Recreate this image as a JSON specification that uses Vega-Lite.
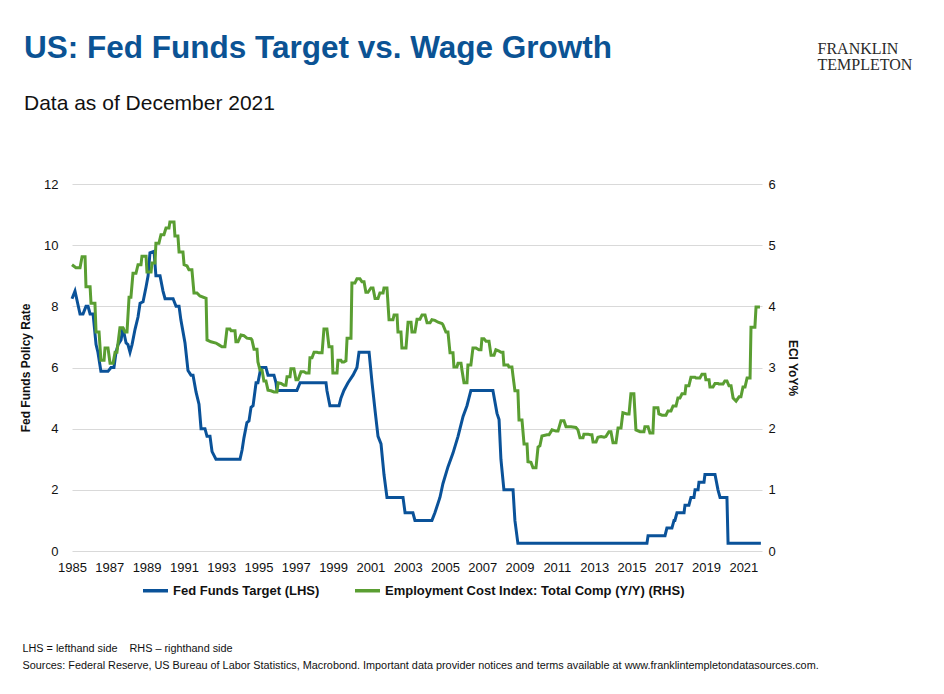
{
  "$schema": "https://vega.github.io/schema/vega-lite/v6.json",
  "width": 690,
  "height": 367,
  "autosize": {"type": "none"},
  "padding": {"left": 72, "top": 184, "right": 182, "bottom": 143},
  "background": "white",
  "config": {
    "font": "Liberation Sans",
    "view": {"stroke": null},
    "axis": {"domain": false, "ticks": false, "labelColor": "#111111", "titleColor": "#111111"}
  },
  "title": {
    "text": "US: Fed Funds Target vs. Wage Growth",
    "subtitle": "Data as of December 2021",
    "anchor": "start",
    "frame": "group",
    "fontSize": 31.5,
    "fontWeight": "bold",
    "color": "#0B5394",
    "subtitleFontSize": 21,
    "subtitleColor": "#111111",
    "subtitlePadding": 29,
    "dx": -48,
    "dy": 78
  },
  "datasets": {
    "ff": [
      {"date": 1985.00, "value": 8.25}, {"date": 1985.16, "value": 8.5}, {"date": 1985.43, "value": 7.75}, {"date": 1985.59, "value": 7.75},
      {"date": 1985.75, "value": 8.0}, {"date": 1985.86, "value": 8.0}, {"date": 1985.97, "value": 7.75}, {"date": 1986.13, "value": 7.75},
      {"date": 1986.29, "value": 6.75}, {"date": 1986.39, "value": 6.5}, {"date": 1986.55, "value": 5.875}, {"date": 1986.93, "value": 5.875},
      {"date": 1987.09, "value": 6.0}, {"date": 1987.25, "value": 6.0}, {"date": 1987.36, "value": 6.5}, {"date": 1987.47, "value": 6.75},
      {"date": 1987.63, "value": 6.9}, {"date": 1987.73, "value": 7.3}, {"date": 1987.90, "value": 6.8}, {"date": 1988.00, "value": 6.75},
      {"date": 1988.11, "value": 6.5}, {"date": 1988.22, "value": 6.75}, {"date": 1988.38, "value": 7.25}, {"date": 1988.54, "value": 7.65},
      {"date": 1988.65, "value": 8.1}, {"date": 1988.81, "value": 8.15}, {"date": 1988.97, "value": 8.63}, {"date": 1989.08, "value": 9.0},
      {"date": 1989.18, "value": 9.75}, {"date": 1989.40, "value": 9.8}, {"date": 1989.50, "value": 9.0}, {"date": 1989.72, "value": 9.0},
      {"date": 1989.88, "value": 8.5}, {"date": 1989.99, "value": 8.25}, {"date": 1990.42, "value": 8.25}, {"date": 1990.58, "value": 8.0},
      {"date": 1990.74, "value": 8.0}, {"date": 1990.84, "value": 7.55}, {"date": 1991.06, "value": 6.8}, {"date": 1991.22, "value": 5.9},
      {"date": 1991.38, "value": 5.75}, {"date": 1991.49, "value": 5.75}, {"date": 1991.65, "value": 5.2}, {"date": 1991.81, "value": 4.8},
      {"date": 1991.92, "value": 4.0}, {"date": 1992.13, "value": 4.0}, {"date": 1992.24, "value": 3.75}, {"date": 1992.40, "value": 3.75},
      {"date": 1992.51, "value": 3.25}, {"date": 1992.72, "value": 3.0}, {"date": 1994.01, "value": 3.0}, {"date": 1994.12, "value": 3.3},
      {"date": 1994.22, "value": 3.7}, {"date": 1994.38, "value": 4.2}, {"date": 1994.49, "value": 4.25}, {"date": 1994.60, "value": 4.7},
      {"date": 1994.71, "value": 4.75}, {"date": 1994.87, "value": 5.5}, {"date": 1994.97, "value": 5.5}, {"date": 1995.13, "value": 6.0},
      {"date": 1995.40, "value": 6.0}, {"date": 1995.51, "value": 5.75}, {"date": 1995.83, "value": 5.75}, {"date": 1995.94, "value": 5.5},
      {"date": 1995.99, "value": 5.25}, {"date": 1997.06, "value": 5.25}, {"date": 1997.23, "value": 5.5}, {"date": 1998.62, "value": 5.5},
      {"date": 1998.67, "value": 5.25}, {"date": 1998.83, "value": 4.75}, {"date": 1999.32, "value": 4.75}, {"date": 1999.42, "value": 5.0},
      {"date": 1999.58, "value": 5.25}, {"date": 1999.80, "value": 5.5}, {"date": 2000.07, "value": 5.75}, {"date": 2000.28, "value": 6.0},
      {"date": 2000.39, "value": 6.5}, {"date": 2000.93, "value": 6.5}, {"date": 2001.09, "value": 5.5}, {"date": 2001.25, "value": 4.6},
      {"date": 2001.41, "value": 3.75}, {"date": 2001.57, "value": 3.5}, {"date": 2001.73, "value": 2.5}, {"date": 2001.89, "value": 1.75},
      {"date": 2002.75, "value": 1.75}, {"date": 2002.86, "value": 1.25}, {"date": 2003.28, "value": 1.25}, {"date": 2003.39, "value": 1.0},
      {"date": 2004.30, "value": 1.0}, {"date": 2004.46, "value": 1.25}, {"date": 2004.73, "value": 1.75}, {"date": 2004.89, "value": 2.2},
      {"date": 2005.16, "value": 2.75}, {"date": 2005.43, "value": 3.2}, {"date": 2005.70, "value": 3.75}, {"date": 2005.97, "value": 4.4},
      {"date": 2006.18, "value": 4.75}, {"date": 2006.39, "value": 5.25}, {"date": 2007.57, "value": 5.25}, {"date": 2007.79, "value": 4.5},
      {"date": 2007.90, "value": 4.3}, {"date": 2008.00, "value": 3.0}, {"date": 2008.16, "value": 2.0}, {"date": 2008.65, "value": 2.0},
      {"date": 2008.75, "value": 1.0}, {"date": 2008.91, "value": 0.25}, {"date": 2015.83, "value": 0.25}, {"date": 2015.89, "value": 0.5},
      {"date": 2016.80, "value": 0.5}, {"date": 2016.90, "value": 0.75}, {"date": 2017.17, "value": 0.75}, {"date": 2017.28, "value": 1.0},
      {"date": 2017.33, "value": 1.0}, {"date": 2017.44, "value": 1.25}, {"date": 2017.82, "value": 1.25}, {"date": 2017.87, "value": 1.5},
      {"date": 2018.08, "value": 1.5}, {"date": 2018.19, "value": 1.75}, {"date": 2018.35, "value": 1.75}, {"date": 2018.41, "value": 2.0},
      {"date": 2018.57, "value": 2.0}, {"date": 2018.62, "value": 2.25}, {"date": 2018.89, "value": 2.25}, {"date": 2018.94, "value": 2.5},
      {"date": 2019.48, "value": 2.5}, {"date": 2019.64, "value": 2.0}, {"date": 2019.75, "value": 1.75}, {"date": 2020.12, "value": 1.75},
      {"date": 2020.18, "value": 0.25}, {"date": 2021.94, "value": 0.25}
    ],
    "eci": [
      {"date": 1985.00, "value": 4.68}, {"date": 1985.21, "value": 4.63}, {"date": 1985.43, "value": 4.63}, {"date": 1985.54, "value": 4.81},
      {"date": 1985.70, "value": 4.81}, {"date": 1985.75, "value": 4.32}, {"date": 1985.97, "value": 4.32}, {"date": 1986.02, "value": 4.05},
      {"date": 1986.23, "value": 4.05}, {"date": 1986.29, "value": 3.58}, {"date": 1986.45, "value": 3.58}, {"date": 1986.55, "value": 3.12},
      {"date": 1986.72, "value": 3.12}, {"date": 1986.77, "value": 3.32}, {"date": 1986.93, "value": 3.32}, {"date": 1987.04, "value": 3.07},
      {"date": 1987.20, "value": 3.07}, {"date": 1987.31, "value": 3.25}, {"date": 1987.41, "value": 3.25}, {"date": 1987.57, "value": 3.65},
      {"date": 1987.73, "value": 3.65}, {"date": 1987.84, "value": 3.58}, {"date": 1987.95, "value": 3.58}, {"date": 1988.06, "value": 4.15},
      {"date": 1988.16, "value": 4.15}, {"date": 1988.27, "value": 4.54}, {"date": 1988.43, "value": 4.54}, {"date": 1988.54, "value": 4.68},
      {"date": 1988.70, "value": 4.68}, {"date": 1988.75, "value": 4.82}, {"date": 1988.97, "value": 4.82}, {"date": 1989.02, "value": 4.56},
      {"date": 1989.24, "value": 4.56}, {"date": 1989.29, "value": 4.71}, {"date": 1989.45, "value": 4.71}, {"date": 1989.50, "value": 5.03},
      {"date": 1989.66, "value": 5.03}, {"date": 1989.77, "value": 5.17}, {"date": 1989.93, "value": 5.17}, {"date": 1990.04, "value": 5.28},
      {"date": 1990.20, "value": 5.28}, {"date": 1990.25, "value": 5.38}, {"date": 1990.47, "value": 5.38}, {"date": 1990.52, "value": 5.15},
      {"date": 1990.68, "value": 5.15}, {"date": 1990.74, "value": 4.89}, {"date": 1990.95, "value": 4.89}, {"date": 1991.01, "value": 4.68},
      {"date": 1991.17, "value": 4.66}, {"date": 1991.27, "value": 4.6}, {"date": 1991.43, "value": 4.6}, {"date": 1991.54, "value": 4.22},
      {"date": 1991.70, "value": 4.22}, {"date": 1991.86, "value": 4.17}, {"date": 1992.19, "value": 4.13}, {"date": 1992.24, "value": 3.45},
      {"date": 1992.45, "value": 3.42}, {"date": 1992.72, "value": 3.4}, {"date": 1992.88, "value": 3.37}, {"date": 1993.04, "value": 3.34},
      {"date": 1993.20, "value": 3.34}, {"date": 1993.31, "value": 3.63}, {"date": 1993.47, "value": 3.63}, {"date": 1993.53, "value": 3.6},
      {"date": 1993.74, "value": 3.6}, {"date": 1993.79, "value": 3.42}, {"date": 1993.90, "value": 3.42}, {"date": 1994.06, "value": 3.53},
      {"date": 1994.22, "value": 3.52}, {"date": 1994.38, "value": 3.48}, {"date": 1994.60, "value": 3.47}, {"date": 1994.65, "value": 3.45},
      {"date": 1994.76, "value": 3.3}, {"date": 1994.92, "value": 3.3}, {"date": 1994.97, "value": 3.09}, {"date": 1995.08, "value": 2.96},
      {"date": 1995.19, "value": 2.96}, {"date": 1995.29, "value": 2.78}, {"date": 1995.40, "value": 2.78}, {"date": 1995.51, "value": 2.63},
      {"date": 1995.67, "value": 2.62}, {"date": 1995.83, "value": 2.6}, {"date": 1995.99, "value": 2.6}, {"date": 1996.05, "value": 2.75},
      {"date": 1996.21, "value": 2.74}, {"date": 1996.37, "value": 2.71}, {"date": 1996.47, "value": 2.71}, {"date": 1996.53, "value": 2.85},
      {"date": 1996.69, "value": 2.85}, {"date": 1996.74, "value": 2.98}, {"date": 1996.90, "value": 2.98}, {"date": 1997.01, "value": 2.8},
      {"date": 1997.12, "value": 2.8}, {"date": 1997.28, "value": 2.93}, {"date": 1997.44, "value": 2.93}, {"date": 1997.55, "value": 2.91},
      {"date": 1997.71, "value": 2.91}, {"date": 1997.76, "value": 3.16}, {"date": 1997.87, "value": 3.16}, {"date": 1997.98, "value": 3.25},
      {"date": 1998.14, "value": 3.25}, {"date": 1998.24, "value": 3.24}, {"date": 1998.41, "value": 3.24}, {"date": 1998.51, "value": 3.63},
      {"date": 1998.67, "value": 3.63}, {"date": 1998.78, "value": 3.34}, {"date": 1998.94, "value": 3.34}, {"date": 1998.99, "value": 2.91},
      {"date": 1999.21, "value": 2.91}, {"date": 1999.26, "value": 3.12}, {"date": 1999.42, "value": 3.12}, {"date": 1999.48, "value": 3.09},
      {"date": 1999.58, "value": 3.09}, {"date": 1999.69, "value": 3.11}, {"date": 1999.75, "value": 3.48}, {"date": 1999.96, "value": 3.48},
      {"date": 2000.01, "value": 4.38}, {"date": 2000.17, "value": 4.38}, {"date": 2000.28, "value": 4.45}, {"date": 2000.44, "value": 4.45},
      {"date": 2000.55, "value": 4.4}, {"date": 2000.66, "value": 4.4}, {"date": 2000.76, "value": 4.23}, {"date": 2000.87, "value": 4.23},
      {"date": 2001.03, "value": 4.3}, {"date": 2001.14, "value": 4.3}, {"date": 2001.25, "value": 4.13}, {"date": 2001.41, "value": 4.13},
      {"date": 2001.51, "value": 4.22}, {"date": 2001.68, "value": 4.22}, {"date": 2001.73, "value": 4.3}, {"date": 2001.89, "value": 4.3},
      {"date": 2002.00, "value": 3.78}, {"date": 2002.21, "value": 3.78}, {"date": 2002.27, "value": 3.86}, {"date": 2002.43, "value": 3.86},
      {"date": 2002.48, "value": 3.58}, {"date": 2002.64, "value": 3.58}, {"date": 2002.69, "value": 3.32}, {"date": 2002.91, "value": 3.32},
      {"date": 2003.02, "value": 3.74}, {"date": 2003.18, "value": 3.74}, {"date": 2003.23, "value": 3.58}, {"date": 2003.39, "value": 3.58},
      {"date": 2003.50, "value": 3.79}, {"date": 2003.66, "value": 3.79}, {"date": 2003.77, "value": 3.86}, {"date": 2003.93, "value": 3.86},
      {"date": 2004.04, "value": 3.73}, {"date": 2004.20, "value": 3.73}, {"date": 2004.30, "value": 3.78}, {"date": 2004.46, "value": 3.77},
      {"date": 2004.63, "value": 3.74}, {"date": 2004.84, "value": 3.72}, {"date": 2004.89, "value": 3.7}, {"date": 2005.05, "value": 3.58},
      {"date": 2005.16, "value": 3.58}, {"date": 2005.27, "value": 3.24}, {"date": 2005.43, "value": 3.24}, {"date": 2005.48, "value": 3.01},
      {"date": 2005.64, "value": 3.01}, {"date": 2005.70, "value": 3.07}, {"date": 2005.86, "value": 3.07}, {"date": 2005.91, "value": 2.96},
      {"date": 2006.02, "value": 2.75}, {"date": 2006.18, "value": 2.75}, {"date": 2006.23, "value": 3.04}, {"date": 2006.39, "value": 3.04},
      {"date": 2006.50, "value": 3.32}, {"date": 2006.66, "value": 3.32}, {"date": 2006.82, "value": 3.29}, {"date": 2006.93, "value": 3.29},
      {"date": 2006.98, "value": 3.47}, {"date": 2007.09, "value": 3.47}, {"date": 2007.20, "value": 3.43}, {"date": 2007.36, "value": 3.43},
      {"date": 2007.47, "value": 3.2}, {"date": 2007.63, "value": 3.2}, {"date": 2007.73, "value": 3.29}, {"date": 2007.90, "value": 3.27},
      {"date": 2008.00, "value": 3.25}, {"date": 2008.11, "value": 3.25}, {"date": 2008.16, "value": 3.04}, {"date": 2008.38, "value": 3.04},
      {"date": 2008.43, "value": 3.01}, {"date": 2008.59, "value": 3.01}, {"date": 2008.65, "value": 2.86}, {"date": 2008.75, "value": 2.62},
      {"date": 2008.91, "value": 2.62}, {"date": 2008.97, "value": 2.14}, {"date": 2009.13, "value": 2.14}, {"date": 2009.24, "value": 1.75},
      {"date": 2009.40, "value": 1.75}, {"date": 2009.45, "value": 1.46}, {"date": 2009.61, "value": 1.45}, {"date": 2009.72, "value": 1.36},
      {"date": 2009.88, "value": 1.36}, {"date": 2009.99, "value": 1.7}, {"date": 2010.09, "value": 1.72}, {"date": 2010.20, "value": 1.88},
      {"date": 2010.47, "value": 1.9}, {"date": 2010.58, "value": 1.9}, {"date": 2010.74, "value": 1.98}, {"date": 2010.95, "value": 1.96},
      {"date": 2011.06, "value": 1.96}, {"date": 2011.22, "value": 2.13}, {"date": 2011.38, "value": 2.13}, {"date": 2011.49, "value": 2.03},
      {"date": 2011.76, "value": 2.03}, {"date": 2012.02, "value": 2.02}, {"date": 2012.13, "value": 1.98}, {"date": 2012.24, "value": 1.85},
      {"date": 2012.40, "value": 1.85}, {"date": 2012.45, "value": 1.91}, {"date": 2012.67, "value": 1.91}, {"date": 2012.78, "value": 1.9},
      {"date": 2012.88, "value": 1.9}, {"date": 2012.94, "value": 1.78}, {"date": 2013.10, "value": 1.78}, {"date": 2013.20, "value": 1.86},
      {"date": 2013.37, "value": 1.87}, {"date": 2013.53, "value": 1.86}, {"date": 2013.63, "value": 1.87}, {"date": 2013.79, "value": 1.95},
      {"date": 2013.90, "value": 1.95}, {"date": 2014.01, "value": 1.77}, {"date": 2014.17, "value": 1.77}, {"date": 2014.28, "value": 2.01},
      {"date": 2014.44, "value": 2.01}, {"date": 2014.54, "value": 2.26}, {"date": 2014.76, "value": 2.24}, {"date": 2014.87, "value": 2.24},
      {"date": 2014.97, "value": 2.57}, {"date": 2015.13, "value": 2.57}, {"date": 2015.24, "value": 1.98}, {"date": 2015.46, "value": 1.95},
      {"date": 2015.67, "value": 1.95}, {"date": 2015.72, "value": 2.03}, {"date": 2015.89, "value": 2.03}, {"date": 2015.99, "value": 1.93},
      {"date": 2016.15, "value": 1.93}, {"date": 2016.21, "value": 2.34}, {"date": 2016.42, "value": 2.34}, {"date": 2016.47, "value": 2.24},
      {"date": 2016.64, "value": 2.22}, {"date": 2016.85, "value": 2.22}, {"date": 2016.96, "value": 2.29}, {"date": 2017.12, "value": 2.29},
      {"date": 2017.23, "value": 2.37}, {"date": 2017.39, "value": 2.37}, {"date": 2017.49, "value": 2.5}, {"date": 2017.60, "value": 2.5},
      {"date": 2017.71, "value": 2.57}, {"date": 2017.87, "value": 2.57}, {"date": 2017.92, "value": 2.7}, {"date": 2018.08, "value": 2.7},
      {"date": 2018.19, "value": 2.84}, {"date": 2018.41, "value": 2.84}, {"date": 2018.46, "value": 2.83}, {"date": 2018.67, "value": 2.83},
      {"date": 2018.78, "value": 2.89}, {"date": 2018.94, "value": 2.89}, {"date": 2018.99, "value": 2.8}, {"date": 2019.16, "value": 2.8},
      {"date": 2019.21, "value": 2.68}, {"date": 2019.37, "value": 2.68}, {"date": 2019.48, "value": 2.74}, {"date": 2019.64, "value": 2.74},
      {"date": 2019.69, "value": 2.73}, {"date": 2019.91, "value": 2.73}, {"date": 2020.01, "value": 2.78}, {"date": 2020.12, "value": 2.78},
      {"date": 2020.23, "value": 2.7}, {"date": 2020.34, "value": 2.7}, {"date": 2020.45, "value": 2.5}, {"date": 2020.61, "value": 2.45},
      {"date": 2020.77, "value": 2.52}, {"date": 2020.87, "value": 2.52}, {"date": 2020.98, "value": 2.68}, {"date": 2021.09, "value": 2.68},
      {"date": 2021.20, "value": 2.83}, {"date": 2021.36, "value": 2.83}, {"date": 2021.41, "value": 3.66}, {"date": 2021.62, "value": 3.66},
      {"date": 2021.68, "value": 3.99}, {"date": 2021.89, "value": 3.99}
    ]
  },
  "layer": [
    {
      "data": {"name": "ff"},
      "mark": {"type": "line", "strokeWidth": 3, "interpolate": "linear"},
      "encoding": {
        "x": {
          "field": "date", "type": "quantitative",
          "scale": {"domain": [1985, 2022], "nice": false, "zero": false},
          "axis": {
            "orient": "bottom",
            "values": [1985, 1987, 1989, 1991, 1993, 1995, 1997, 1999, 2001, 2003, 2005, 2007, 2009, 2011, 2013, 2015, 2017, 2019, 2021],
            "format": "d", "grid": false, "labelFontSize": 13, "labelPadding": 10, "labelFlush": false, "labelOverlap": false,
            "title": ["LHS = lefthand side\u00a0\u00a0\u00a0\u00a0RHS \u2013 righthand side", "Sources: Federal Reserve, US Bureau of Labor Statistics, Macrobond. Important data provider notices and terms available at www.franklintempletondatasources.com."],
            "titleFontSize": 10.85, "titleFontWeight": "normal", "titleAlign": "left", "titleAnchor": "start", "titleBaseline": "alphabetic",
            "titleLineHeight": 17, "titleX": -50, "titleY": 100
          }
        },
        "y": {
          "field": "value", "type": "quantitative",
          "scale": {"domain": [0, 12], "nice": false},
          "axis": {
            "orient": "left", "values": [0, 2, 4, 6, 8, 10, 12], "grid": true, "gridColor": "#d9d9d9", "gridWidth": 1,
            "labelFontSize": 13, "labelPadding": 14,
            "title": "Fed Funds Policy Rate", "titleFontSize": 12, "titleFontWeight": "bold", "titlePadding": 11
          }
        },
        "color": {
          "datum": "Fed Funds Target (LHS)",
          "scale": {"domain": ["Fed Funds Target (LHS)", "Employment Cost Index: Total Comp (Y/Y) (RHS)"], "range": ["#0A5299", "#5A9E32"]},
          "legend": {
            "orient": "none", "legendX": 69, "legendY": 392, "direction": "horizontal", "title": null,
            "symbolType": "stroke", "symbolSize": 625, "symbolStrokeWidth": 3.5, "labelFontSize": 13, "labelFontWeight": "bold",
            "labelColor": "#111111", "columnPadding": 28, "labelOffset": 3, "labelLimit": 400
          }
        }
      }
    },
    {
      "data": {"name": "eci"},
      "mark": {"type": "line", "strokeWidth": 3, "interpolate": "linear"},
      "encoding": {
        "x": {
          "field": "date", "type": "quantitative",
          "axis": {
            "orient": "top", "labels": false, "grid": false,
            "title": ["FRANKLIN", "TEMPLETON"], "titleFont": "Liberation Serif", "titleFontSize": 16, "titleFontWeight": "normal",
            "titleColor": "#2a2a2a", "titleAlign": "left", "titleAnchor": "start", "titleBaseline": "alphabetic", "titleLineHeight": 16,
            "titleX": 745, "titleY": -131
          }
        },
        "y": {
          "field": "value", "type": "quantitative",
          "scale": {"domain": [0, 6], "nice": false},
          "axis": {
            "orient": "right", "values": [0, 1, 2, 3, 4, 5, 6], "grid": false, "labelFontSize": 13, "labelPadding": 6,
            "title": "ECI YoY%", "titleFontSize": 12, "titleFontWeight": "bold", "titlePadding": 10
          }
        },
        "color": {"datum": "Employment Cost Index: Total Comp (Y/Y) (RHS)"}
      }
    }
  ],
  "resolve": {"scale": {"y": "independent"}, "axis": {"x": "independent", "y": "independent"}}
}
